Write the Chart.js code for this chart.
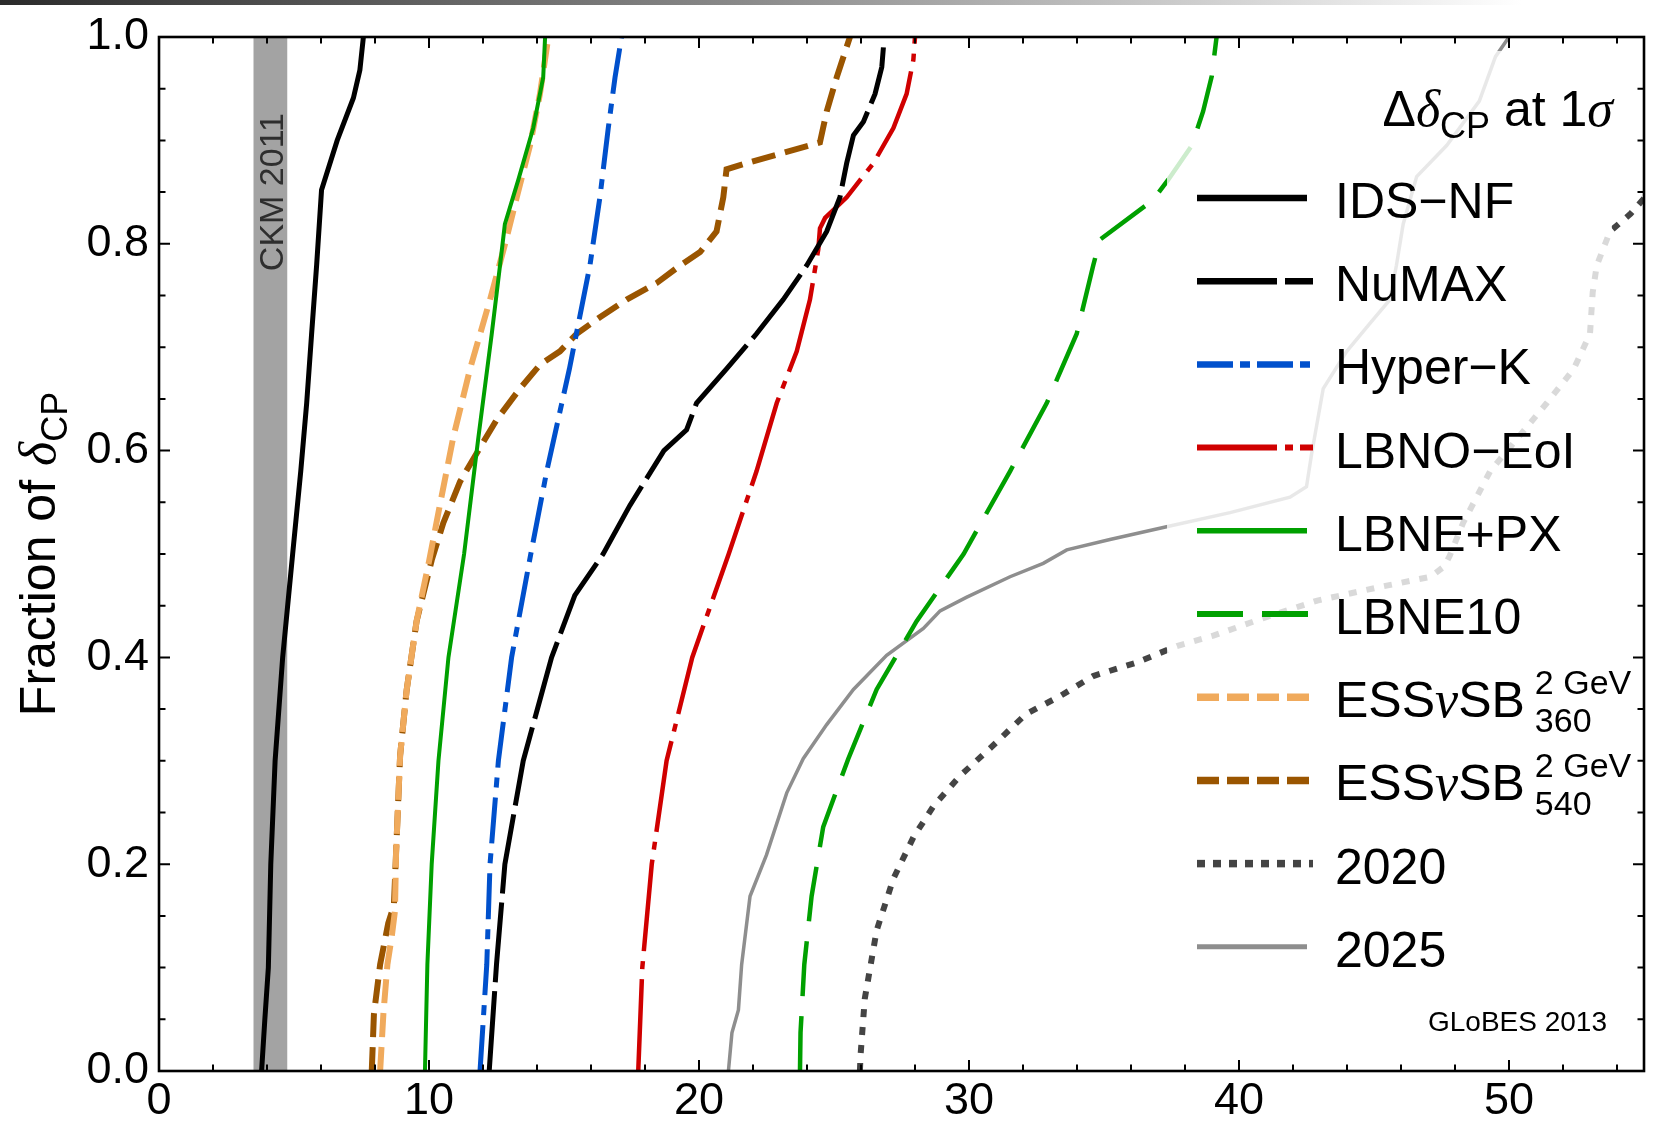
<!DOCTYPE html>
<html>
<head>
<meta charset="utf-8">
<script src="https://cdn.jsdelivr.net/npm/chart.js@4.4.0/dist/chart.umd.min.js"></script>
<style>
  html, body { margin: 0; padding: 0; background: #fff; }
  #wrap { position: relative; width: 1654px; height: 1123px; }
  #topbar { position: absolute; left: 0; top: 0; width: 1654px; height: 5px;
            background: linear-gradient(to right, #2b2b2b 0%, #8a8a8a 45%, #fff 92%); }
</style>
</head>
<body>
<div id="wrap">
  <canvas id="chart" width="1654" height="1123"></canvas>
  <div id="topbar"></div>
</div>
<script>
// curves: [delta CP precision in degrees, fraction of delta CP]
const idsNf = [[3.80,0],[3.92,0.05],[4.05,0.10],[4.14,0.20],[4.30,0.30],[4.58,0.40],[4.95,0.50],[5.25,0.58],[5.47,0.646],[5.65,0.712],[5.84,0.78],[6.02,0.852],[6.60,0.90],[7.20,0.941],[7.44,0.968],[7.57,1.0]];
const numax = [[12.23,0],[12.5,0.103],[12.81,0.2],[13.49,0.30],[14.54,0.40],[15.4,0.46],[16.45,0.5],[17.44,0.547],[18.7,0.6],[19.54,0.620],[19.91,0.646],[21.02,0.679],[22.13,0.713],[23.12,0.746],[23.99,0.779],[24.73,0.812],[25.22,0.845],[25.47,0.878],[25.72,0.905],[26.09,0.918],[26.52,0.945],[26.77,0.971],[26.83,0.99]];
const hyperK = [[11.89,0],[12.14,0.103],[12.26,0.2],[12.57,0.30],[13.06,0.40],[13.77,0.5],[14.36,0.58],[15.2,0.679],[15.96,0.779],[16.33,0.845],[16.64,0.912],[16.89,0.961],[17.13,1.0]];
const lbnoEoi = [[17.75,0],[17.9,0.1],[18.25,0.2],[18.8,0.3],[19.75,0.4],[21.1,0.5],[22.13,0.58],[22.88,0.646],[23.62,0.696],[24.11,0.746],[24.42,0.795],[24.48,0.815],[24.67,0.825],[25.47,0.845],[26.46,0.878],[27.2,0.912],[27.69,0.945],[27.94,0.978],[28.0,1.0]];
const lbnePx = [[9.85,0],[9.94,0.103],[10.1,0.2],[10.35,0.30],[10.72,0.40],[11.3,0.50],[11.83,0.613],[12.32,0.712],[12.63,0.779],[12.81,0.819],[13.31,0.862],[13.86,0.912],[14.23,0.961],[14.30,1.0]];
const lbne10 = [[23.74,0],[23.76,0.037],[23.9,0.103],[24.17,0.169],[24.6,0.236],[25.53,0.302],[26.58,0.369],[28.06,0.435],[29.8,0.5],[31.52,0.58],[32.88,0.646],[33.99,0.713],[34.6,0.779],[34.85,0.804],[36.8,0.842],[37.38,0.862],[38.25,0.895],[38.67,0.928],[38.99,0.962],[39.17,1.0]];
const ess360 = [[8.19,0],[8.31,0.055],[8.46,0.103],[8.62,0.13],[8.74,0.155],[8.78,0.211],[8.93,0.305],[9.17,0.368],[9.54,0.435],[10.01,0.494],[10.4,0.547],[10.9,0.613],[11.52,0.679],[12.26,0.746],[12.81,0.799],[13.25,0.845],[13.74,0.895],[14.11,0.945],[14.42,1.0]];
const ess540 = [[7.88,0],[7.96,0.055],[8.19,0.103],[8.49,0.143],[8.70,0.16],[8.78,0.211],[8.93,0.305],[9.17,0.368],[9.54,0.435],[10.1,0.494],[10.53,0.530],[11.15,0.570],[11.89,0.603],[12.51,0.630],[13.37,0.660],[14.11,0.683],[14.85,0.696],[15.47,0.713],[16.33,0.729],[17.32,0.746],[18.43,0.762],[19.3,0.779],[20.04,0.792],[20.65,0.812],[20.9,0.845],[21.02,0.872],[21.77,0.878],[23.12,0.888],[24.48,0.898],[24.73,0.928],[25.1,0.961],[25.59,1.0]];
const y2020 = [[25.96,0],[25.98,0.014],[26.14,0.070],[26.58,0.136],[27.2,0.186],[27.94,0.226],[28.68,0.256],[29.65,0.285],[30.9,0.315],[32.1,0.345],[33.4,0.363],[34.6,0.382],[36.2,0.395],[37.7,0.411],[39.05,0.421],[40.9,0.438],[42.9,0.455],[45.2,0.468],[47.1,0.478],[47.6,0.488],[47.8,0.498],[48.3,0.53],[49.3,0.58],[51.4,0.646],[52.4,0.679],[53.0,0.713],[53.1,0.753],[53.25,0.779],[53.74,0.812],[54.5,0.829],[55.2,0.85]];
const y2025 = [[21.09,0],[21.22,0.037],[21.46,0.059],[21.58,0.103],[21.89,0.169],[22.5,0.209],[23.25,0.269],[23.86,0.302],[24.73,0.335],[25.72,0.369],[26.95,0.402],[28.31,0.428],[28.93,0.445],[29.9,0.458],[31.52,0.478],[32.75,0.491],[33.62,0.504],[35.22,0.514],[37.44,0.527],[39.67,0.540],[41.89,0.555],[42.5,0.565],[42.69,0.597],[43.12,0.660],[43.99,0.696],[44.85,0.723],[45.59,0.746],[45.83,0.779],[46.08,0.819],[46.58,0.865],[47.69,0.895],[48.9,0.938],[49.5,0.981],[50.0,1.0]];

const ckmBand = [3.5, 4.75];
const xTicks = [0, 10, 20, 30, 40, 50];
const yTicks = [0, 0.2, 0.4, 0.6, 0.8, 1.0];

const SANS = '"Liberation Sans", Arial, sans-serif';
const SERIF = '"Liberation Serif", "Times New Roman", serif';

function pts(arr) { return arr.map(p => ({ x: p[0], y: p[1] })); }

function line(label, data, color, width, dash, legendDash) {
    return {
        label: label,
        data: pts(data),
        borderColor: color,
        borderWidth: width,
        borderDash: dash,
        legendDash: legendDash,
        pointRadius: 0,
        tension: 0,
        fill: false
    };
}

const datasets = [
    line('IDS−NF', idsNf, '#000000', 5, [], []),
    line('NuMAX', numax, '#000000', 5, [80, 9], [80, 8]),
    line('Hyper−K', hyperK, '#0050cc', 5, [46, 10, 10, 10], [36, 7, 10, 7]),
    line('LBNO−EoI', lbnoEoi, '#d00000', 4.5, [92, 10, 8, 10], [80, 8, 8, 7]),
    line('LBNE+PX', lbnePx, '#00a000', 4, [], []),
    line('LBNE10', lbne10, '#00a000', 4.5, [55, 20], [46, 19]),
    line('ESSνSB 360', ess360, '#f0aa5c', 6, [24, 10], [22, 8]),
    line('ESSνSB 540', ess540, '#9a5500', 6, [24, 10], [22, 8]),
    line('2020', y2020, '#444444', 6, [8, 10], [8, 8]),
    line('2025', y2025, '#8e8e8e', 3.5, [], [])
];

// draws a row of text pieces: [text, font, baseline shift]
function rich(ctx, parts, x, y) {
    let cx = x;
    parts.forEach(p => {
        ctx.font = p[1];
        ctx.fillText(p[0], cx, y + (p[2] || 0));
        cx += ctx.measureText(p[0]).width;
    });
    return cx;
}
function richWidth(ctx, parts) {
    let w = 0;
    parts.forEach(p => { ctx.font = p[1]; w += ctx.measureText(p[0]).width; });
    return w;
}

const bandPlugin = {
    id: 'ckm',
    beforeDatasetsDraw(chart) {
        const { ctx, chartArea: a, scales: { x, y } } = chart;
        const x0 = x.getPixelForValue(ckmBand[0]);
        const x1 = x.getPixelForValue(ckmBand[1]);
        ctx.save();
        ctx.fillStyle = '#a3a3a3';
        ctx.fillRect(x0, a.top, x1 - x0, a.bottom - a.top);
        ctx.translate(x1 - 4, y.getPixelForValue(0.85));
        ctx.rotate(-Math.PI / 2);
        ctx.fillStyle = '#2e2e2e';
        ctx.font = '34px ' + SANS;
        ctx.textAlign = 'center';
        ctx.fillText('CKM 2011', 0, 0);
        ctx.restore();
    }
};

const legendPlugin = {
    id: 'legendBox',
    afterDatasetsDraw(chart) {
        const { ctx, chartArea: a } = chart;
        ctx.save();
        ctx.fillStyle = 'rgba(255,255,255,0.8)';
        ctx.fillRect(a.right - 294, a.top + 14, 262, 83);
        ctx.fillRect(a.right - 477, a.top + 97, 445, 862);

        ctx.fillStyle = '#000';
        ctx.textBaseline = 'alphabetic';
        const title = [['Δ', '50px ' + SANS], ['δ', 'italic 52px ' + SERIF], ['CP', '36px ' + SANS, 12],
                       [' at 1', '50px ' + SANS], ['σ', 'italic 52px ' + SERIF]];
        rich(ctx, title, a.right - 31 - richWidth(ctx, title), a.top + 89);

        const lx0 = a.right - 447, lx1 = a.right - 337, tx = a.right - 309;
        datasets.forEach((ds, i) => {
            const ry = a.top + 161 + i * 83.2;
            ctx.strokeStyle = ds.borderColor;
            ctx.lineWidth = ds.borderWidth + 1.5;
            ctx.setLineDash(ds.legendDash);
            ctx.beginPath();
            ctx.moveTo(lx0, ry);
            ctx.lineTo(ds.legendDash.length ? lx1 + 6 : lx1, ry);
            ctx.stroke();
            ctx.setLineDash([]);
            const by = ry + 20;
            if (ds.label.startsWith('ESS')) {
                const end = rich(ctx, [['ESS', '50px ' + SANS], ['ν', 'italic 52px ' + SERIF], ['SB', '50px ' + SANS]], tx, by);
                ctx.font = '34px ' + SANS;
                ctx.fillText('2 GeV', end + 10, by - 23);
                ctx.fillText(ds.label.split(' ')[1], end + 10, by + 15);
            } else {
                ctx.font = '50px ' + SANS;
                ctx.fillText(ds.label, tx, by);
            }
        });

        ctx.font = '28px ' + SANS;
        ctx.textAlign = 'right';
        ctx.fillText('GLoBES 2013', a.right - 37, a.bottom - 40);
        ctx.restore();
    }
};

const framePlugin = {
    id: 'frame',
    afterDraw(chart) {
        const { ctx, chartArea: a, scales: { x, y } } = chart;
        ctx.save();
        ctx.strokeStyle = '#000';
        ctx.lineWidth = 2;
        ctx.beginPath();
        for (let v = 0; v <= 55; v += 2) {
            const px = x.getPixelForValue(v);
            const len = v % 10 === 0 ? 11 : 6.5;
            ctx.moveTo(px, a.bottom); ctx.lineTo(px, a.bottom - len);
            ctx.moveTo(px, a.top); ctx.lineTo(px, a.top + len);
        }
        for (let i = 0; i <= 20; i++) {
            const py = y.getPixelForValue(i * 0.05);
            const len = i % 4 === 0 ? 11 : 6.5;
            ctx.moveTo(a.left, py); ctx.lineTo(a.left + len, py);
            ctx.moveTo(a.right, py); ctx.lineTo(a.right - len, py);
        }
        ctx.stroke();
        ctx.lineWidth = 2.6;
        ctx.strokeRect(a.left, a.top, a.right - a.left, a.bottom - a.top);

        // y axis title
        const parts = [['Fraction of ', '50px ' + SANS], ['δ', 'italic 52px ' + SERIF], ['CP', '36px ' + SANS, 12]];
        const w = richWidth(ctx, parts);
        ctx.translate(a.left - 104, (a.top + a.bottom) / 2 + w / 2);
        ctx.rotate(-Math.PI / 2);
        ctx.fillStyle = '#000';
        rich(ctx, parts, 0, 0);
        ctx.restore();
    }
};

new Chart(document.getElementById('chart'), {
    type: 'line',
    data: { datasets: datasets },
    options: {
        responsive: false,
        animation: false,
        events: [],
        layout: { padding: { top: 31, right: 10, left: 0, bottom: 0 } },
        plugins: { legend: { display: false }, tooltip: { enabled: false } },
        scales: {
            x: {
                type: 'linear', min: 0, max: 55,
                afterFit: s => { s.height = 52; },
                afterBuildTicks: s => { s.ticks = xTicks.map(v => ({ value: v })); },
                grid: { display: false, drawTicks: false },
                border: { display: false },
                ticks: { color: '#000', padding: 4, maxRotation: 0, font: { family: SANS, size: 45 } }
            },
            y: {
                type: 'linear', min: 0, max: 1,
                afterFit: s => { s.width = 159; },
                afterBuildTicks: s => { s.ticks = yTicks.map(v => ({ value: v })); },
                grid: { display: false, drawTicks: false },
                border: { display: false },
                ticks: { color: '#000', padding: 10, font: { family: SANS, size: 45 },
                         callback: v => v.toFixed(1) }
            }
        }
    },
    plugins: [bandPlugin, legendPlugin, framePlugin]
});
</script>
</body>
</html>
